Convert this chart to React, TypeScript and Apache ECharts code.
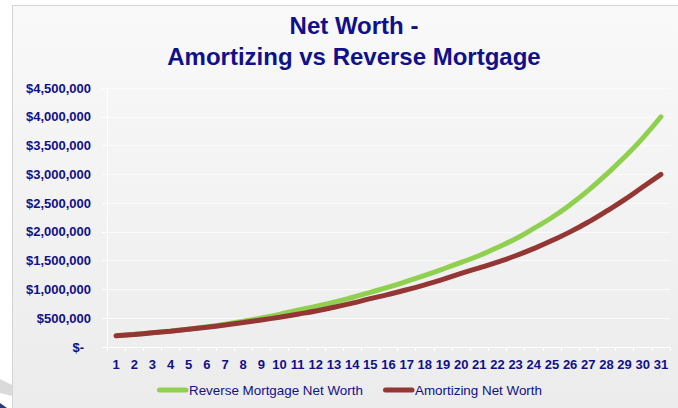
import React, { useEffect, useRef } from "react";
import * as echarts from "echarts";

const categories = [
  "1", "2", "3", "4", "5", "6", "7", "8", "9", "10",
  "11", "12", "13", "14", "15", "16", "17", "18", "19", "20",
  "21", "22", "23", "24", "25", "26", "27", "28", "29", "30", "31",
];

const reverseMortgage = [
  195000, 220000, 248000, 279000, 314000, 353000, 397000, 447000, 503000, 567000,
  640000, 705000, 777000, 860000, 950000, 1040000, 1140000, 1245000, 1355000, 1470000,
  1590000, 1730000, 1880000, 2060000, 2250000, 2470000, 2720000, 3000000, 3300000, 3630000,
  4000000,
];

const amortizing = [
  195000, 219000, 246000, 275000, 308000, 343000, 382000, 424000, 470000, 518000,
  570000, 625000, 690000, 762000, 840000, 914000, 994000, 1081000, 1176000, 1280000,
  1375000, 1475000, 1585000, 1710000, 1850000, 2000000, 2170000, 2360000, 2560000, 2780000,
  3000000,
];

const yTicks = [0, 500000, 1000000, 1500000, 2000000, 2500000, 3000000, 3500000, 4000000, 4500000];

const seriesNames = ["Reverse Mortgage Net Worth", "Amortizing Net Worth"];
const seriesColors = ["#8fd14f", "#943634"];

const NAVY = "#10108a";
const FONT = "Liberation Sans, Arial, sans-serif";

function fmt(v: number): string {
  if (v === 0) return "{z|$-}";
  return "$" + v.toLocaleString("en-US");
}

export default function App() {
  const ref = useRef<HTMLDivElement>(null);
  useEffect(() => {
    if (!ref.current) return;
    const chart = echarts.init(ref.current, undefined, { renderer: "svg" });
    const legendX = [157, 383];
    const legendY = 390;
    const legendGraphics: any[] = [];
    seriesNames.forEach((name, i) => {
      legendGraphics.push({
        type: "line",
        silent: true,
        shape: { x1: legendX[i] + 2.5, y1: legendY, x2: legendX[i] + 29, y2: legendY },
        style: { stroke: seriesColors[i], lineWidth: 5, lineCap: "round" },
      });
      legendGraphics.push({
        type: "text",
        silent: true,
        x: legendX[i] + 32,
        y: legendY,
        style: {
          text: name,
          fill: NAVY,
          font: `13.4px ${FONT}`,
          textVerticalAlign: "middle",
          verticalAlign: "middle",
        },
      });
    });
    chart.setOption({
      animation: false,
      backgroundColor: "#ffffff",
      graphic: [
        {
          type: "rect",
          z: -10,
          silent: true,
          shape: { x: 12.5, y: 5.5, width: 680, height: 420 },
          style: {
            fill: new echarts.graphic.LinearGradient(0, 0, 0, 1, [
              { offset: 0, color: "#f9f9f9" },
              { offset: 1, color: "#ebebeb" },
            ]),
            stroke: "#d4d4d4",
            lineWidth: 1,
          },
        },
        {
          type: "polygon",
          silent: true,
          z: -11,
          shape: { points: [[0, 379], [12, 385], [12, 396], [0, 393]] },
          style: { fill: "#dadada" },
        },
        {
          type: "polygon",
          silent: true,
          z: -11,
          shape: { points: [[0, 403], [7, 408], [0, 408]] },
          style: { fill: "#2a3a7a" },
        },
        ...legendGraphics,
      ],
      title: {
        text: "Net Worth -\nAmortizing vs Reverse Mortgage",
        left: 349,
        textAlign: "center",
        top: 5,
        textStyle: {
          fontFamily: FONT,
          fontSize: 24,
          fontWeight: "bold",
          color: NAVY,
          lineHeight: 31,
        },
      },
      grid: { left: 107, right: 8, top: 88, bottom: 61, containLabel: false },
      xAxis: {
        type: "category",
        data: categories,
        boundaryGap: true,
        axisLine: { show: true, lineStyle: { color: "#ffffff", width: 1 } },
        axisTick: { show: true, alignWithLabel: false, length: 4, lineStyle: { color: "#ffffff" } },
        axisLabel: {
          interval: 0,
          margin: 11,
          fontFamily: FONT,
          fontSize: 13,
          fontWeight: "bold",
          color: NAVY,
        },
        splitLine: { show: false },
      },
      yAxis: {
        type: "value",
        min: yTicks[0],
        max: yTicks[yTicks.length - 1],
        interval: 500000,
        axisLine: { show: true, lineStyle: { color: "#ffffff", width: 1 } },
        axisTick: { show: true, length: 5, lineStyle: { color: "#ffffff" } },
        axisLabel: {
          margin: 16,
          fontFamily: FONT,
          fontSize: 13,
          fontWeight: "bold",
          color: NAVY,
          formatter: fmt,
          rich: {
            z: {
              fontFamily: FONT,
              fontSize: 13,
              fontWeight: "bold",
              color: NAVY,
              padding: [0, 7, 0, 0],
            },
          },
        },
        splitLine: { show: true, lineStyle: { color: "#fbfbfb", width: 1 } },
      },
      series: [
        {
          name: seriesNames[0],
          type: "line",
          data: reverseMortgage,
          smooth: true,
          showSymbol: false,
          symbol: "none",
          lineStyle: { color: seriesColors[0], width: 5, cap: "round" },
          itemStyle: { color: seriesColors[0] },
          z: 2,
        },
        {
          name: seriesNames[1],
          type: "line",
          data: amortizing,
          smooth: true,
          showSymbol: false,
          symbol: "none",
          lineStyle: { color: seriesColors[1], width: 5, cap: "round" },
          itemStyle: { color: seriesColors[1] },
          z: 3,
        },
      ],
    });
    return () => chart.dispose();
  }, []);
  return (
    <div
      ref={ref}
      style={{ position: "fixed", left: 0, top: 0, width: 678, height: 408 }}
    />
  );
}
